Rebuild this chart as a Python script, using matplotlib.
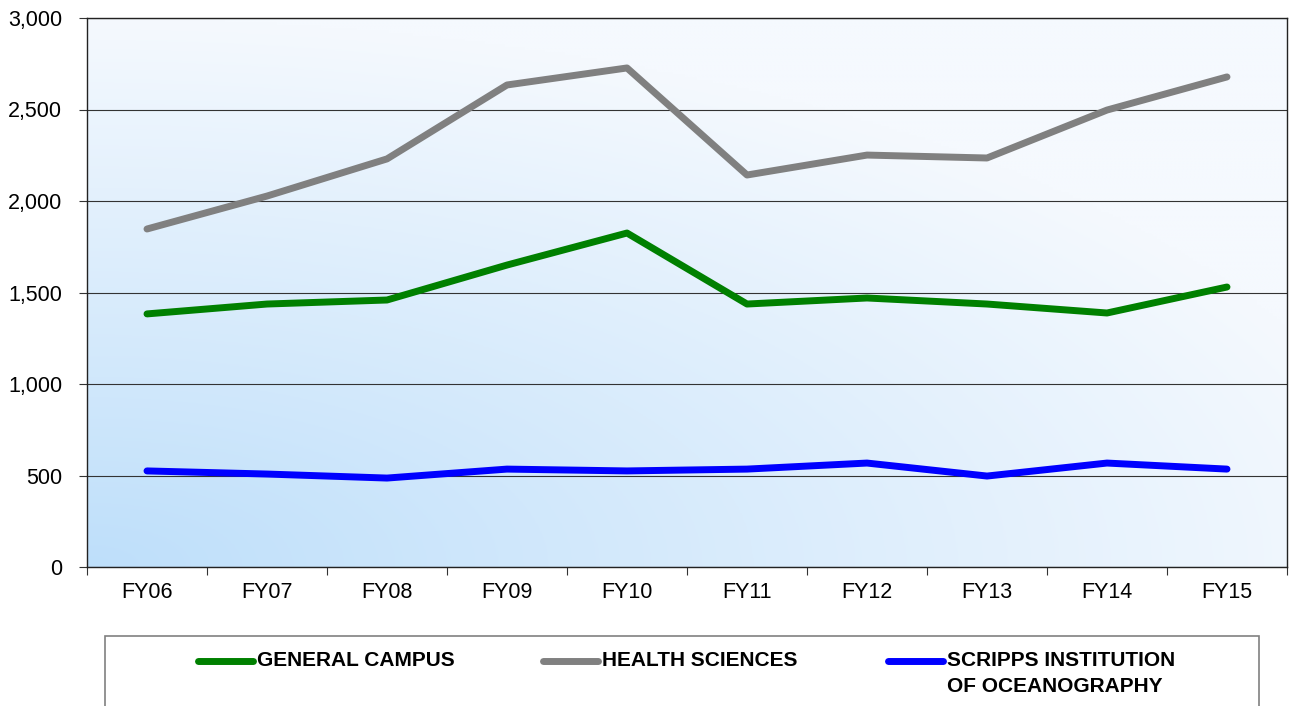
import numpy as np
import matplotlib.pyplot as plt
from matplotlib.lines import Line2D
from matplotlib.patches import Rectangle

plt.rcParams['font.family'] = ['Liberation Sans', 'DejaVu Sans']

years = ["FY06", "FY07", "FY08", "FY09", "FY10", "FY11", "FY12", "FY13", "FY14", "FY15"]
general = [1383, 1437, 1459, 1650, 1825, 1437, 1470, 1437, 1388, 1530]
health = [1847, 2027, 2230, 2634, 2727, 2142, 2251, 2235, 2497, 2678]
scripps = [525, 508, 486, 535, 525, 535, 568, 497, 568, 535]
labels = ["GENERAL CAMPUS", "HEALTH SCIENCES", "SCRIPPS INSTITUTION\nOF OCEANOGRAPHY"]
colors = ["#008000", "#808080", "#0000ff"]

fig = plt.figure(figsize=(12.91, 7.06), dpi=100)
ax = fig.add_axes([87/1291, 1-567/706, 1200/1291, 549/706])

# gradient background, light blue bottom-left -> near white top-right
gx, gy = np.meshgrid(np.linspace(0, 1, 300), np.linspace(0, 1, 200))
t = np.clip(np.sqrt((gx*0.9)**2 + (gy*1.0)**2) / 1.0, 0, 1)
c0 = np.array([190, 223, 250]) / 255
c1 = np.array([245, 249, 254]) / 255
img = c0[None, None, :] * (1 - t[..., None]) + c1[None, None, :] * t[..., None]
ax.imshow(img, extent=[-0.5, 9.5, 3000, 0], aspect='auto', zorder=0)

x = np.arange(len(years))
for vals, col in zip([general, health, scripps], colors):
    ax.plot(x, vals, color=col, lw=5, solid_capstyle='round', solid_joinstyle='round', zorder=3)

ax.set_xlim(-0.5, 9.5)
ax.set_ylim(0, 3000)
ax.set_yticks(np.arange(0, 3001, 500))
ax.set_yticklabels([f"{v:,}" for v in range(0, 3001, 500)], fontsize=15.5)
ax.yaxis.grid(True, color='#333333', lw=0.8)
ax.set_xticks(np.arange(-0.5, 10, 1))
ax.set_xticklabels([])
ax.set_xticks(x, minor=True)
ax.set_xticklabels(years, minor=True, fontsize=15.5)
ax.tick_params(axis='x', which='minor', length=0, pad=11)
ax.tick_params(axis='x', which='major', length=6, color='#333333')
ax.tick_params(axis='y', length=6, color='#333333', pad=12)
for s in ax.spines.values():
    s.set_color('#222222')
    s.set_linewidth(1)
for gl in ax.get_ygridlines():
    gl.set_zorder(1)

# legend box
fig.add_artist(Rectangle((105/1291, -0.05), 1154/1291, 0.05 + 1 - 636/706,
                         transform=fig.transFigure, fill=False, edgecolor='#808080', lw=1.2))
hx = [198, 543, 888]
for lab, col, px in zip(labels, colors, hx):
    y = 1 - 661/706
    fig.add_artist(Line2D([px/1291, (px+55)/1291], [y, y], color=col, lw=5,
                          solid_capstyle='round', transform=fig.transFigure))
    fig.text((px+59)/1291, 1 - 651/706, lab, fontsize=15, fontweight='bold',
             va='top', ha='left', linespacing=1.45)

fig.savefig("out.png", dpi=100)
